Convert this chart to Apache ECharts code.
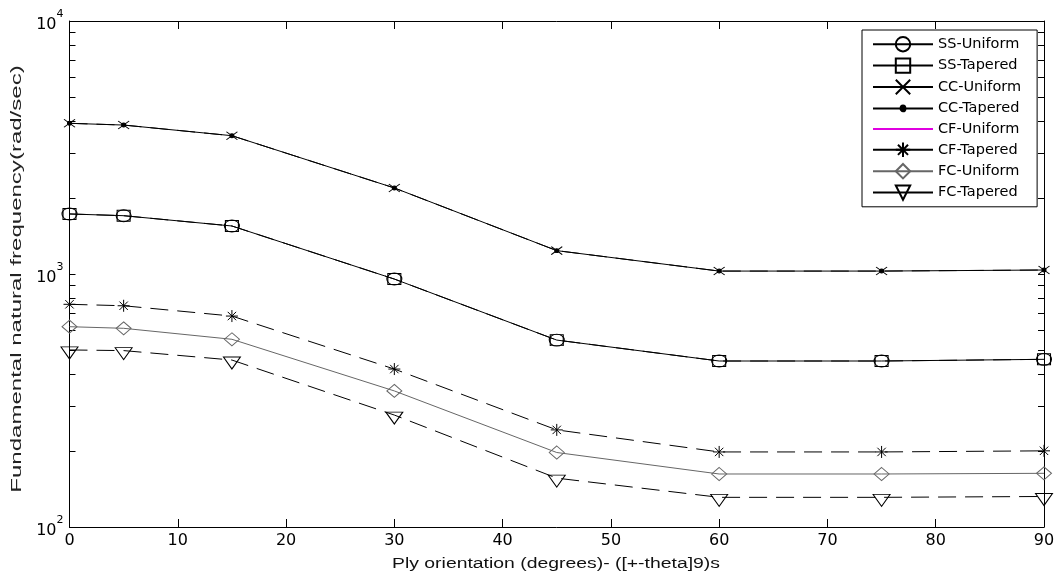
<!DOCTYPE html>
<html>
<head>
<meta charset="utf-8">
<script src="https://cdn.jsdelivr.net/npm/echarts@6/dist/echarts.min.js"></script>
<style>
  html, body { margin: 0; padding: 0; background: #fff; }
  #chart { width: 1057px; height: 576px; }
</style>
</head>
<body>
<div id="chart"></div>
<script>
// Ply angle (degrees) for the [+-theta]9s laminate
const angles = [0, 5, 15, 30, 45, 60, 75, 90];

// Fundamental natural frequency (rad/sec) per boundary condition and taper case
const ssUniform = [1727, 1700, 1548, 955, 548, 453, 453, 460];
const ssTapered = [1727, 1700, 1548, 955, 548, 453, 453, 460];
const ccUniform = [3941, 3879, 3521, 2188, 1237, 1027, 1027, 1037];
const ccTapered = [3941, 3879, 3521, 2188, 1237, 1027, 1027, 1037];
const cfUniform = [];
const cfTapered = [759, 749, 682, 421, 242, 198, 198, 200];
const fcUniform = [619, 610, 552, 345, 197, 162, 162, 163];
const fcTapered = [501, 498, 457, 277, 156, 131, 131, 132];

const seriesNames = ['SS-Uniform', 'SS-Tapered', 'CC-Uniform', 'CC-Tapered',
                     'CF-Uniform', 'CF-Tapered', 'FC-Uniform', 'FC-Tapered'];

// Decade labels, plus every tick of the log frequency axis (decades and 2..9 steps)
const decadeTicks = [100, 1000, 10000];
const logTicks = [100, 200, 300, 400, 500, 600, 700, 800, 900,
                  1000, 2000, 3000, 4000, 5000, 6000, 7000, 8000, 9000, 10000];

const xTitle = 'Ply orientation (degrees)- ([+-theta]9)s';
const yTitle = 'Fundamental natural frequency(rad/sec)';

const FONT = '"DejaVu Sans", sans-serif';
const FONT_NARROW = '"Liberation Sans", Arial, sans-serif';

// Marker outlines (slightly wider than tall)
const SYM = {
  ring: 'path://M0,6A8,6 0 1,1 16,6A8,6 0 1,1 0,6Z',
  box: 'path://M0,0L13,0L13,11L0,11Z',
  cross: 'path://M0,0L12,9M12,0L0,9',
  dot: 'path://M0,0M12,10M4,5A2,2 0 1,0 8,5A2,2 0 1,0 4,5Z',
  star: 'path://M6,0L6,12M0,6L12,6M1.8,1.8L10.2,10.2M10.2,1.8L1.8,10.2',
  rhomb: 'path://M8,0L16,6.5L8,13L0,6.5Z',
  triDown: 'path://M0,0L17,0L8.5,12Z'
};

function pairs(vals) {
  return vals.map((v, i) => [angles[i], v]);
}

function makeSeries(name, vals, opts) {
  return {
    name: name,
    type: 'line',
    data: pairs(vals),
    symbol: opts.symbol || 'circle',
    symbolSize: opts.size || 10,
    symbolOffset: opts.offset || [0, 0],
    showSymbol: true,
    silent: true,
    animation: false,
    lineStyle: {
      color: opts.color,
      width: 1,
      type: opts.dashed ? [18, 9] : 'solid'
    },
    itemStyle: {
      color: opts.filled ? opts.color : 'rgba(0,0,0,0)',
      borderColor: opts.noMarker ? 'rgba(0,0,0,0)' : opts.color,
      borderWidth: opts.noMarker ? 0 : 1
    }
  };
}

const chart = echarts.init(document.getElementById('chart'));

const series = [
  makeSeries(seriesNames[0], ssUniform, { color: '#000', symbol: SYM.ring, size: [15, 12] }),
  makeSeries(seriesNames[1], ssTapered, { color: '#000', symbol: SYM.box, size: [13, 11], dashed: true }),
  makeSeries(seriesNames[2], ccUniform, { color: '#000', symbol: SYM.cross, size: [11, 8] }),
  makeSeries(seriesNames[3], ccTapered, { color: '#000', symbol: SYM.dot, size: [12, 10], dashed: true, filled: true }),
  makeSeries(seriesNames[4], cfUniform, { color: '#e000e0', noMarker: true }),
  makeSeries(seriesNames[5], cfTapered, { color: '#000', symbol: SYM.star, size: [12, 12], dashed: true }),
  makeSeries(seriesNames[6], fcUniform, { color: '#666', symbol: SYM.rhomb, size: [15, 13] }),
  makeSeries(seriesNames[7], fcTapered, { color: '#000', symbol: SYM.triDown, size: [17, 12], offset: [0, 3], dashed: true })
];

const yLabelFmt = function (v) {
  const e = Math.round(Math.log10(v));
  return '{b|10}{s|' + e + '}';
};

const frameLine = { show: true, onZero: false, lineStyle: { color: '#000', width: 1 } };

function logAxis(position, label) {
  return {
    type: 'log',
    logBase: 10,
    min: 100, max: 10000,
    position: position,
    axisLine: frameLine,
    axisTick: { show: true, inside: true, length: 6, customValues: logTicks, lineStyle: { color: '#000' } },
    axisLabel: label || { show: false },
    splitLine: { show: false }
  };
}

function angleAxis(position, label) {
  return {
    type: 'value',
    min: 0, max: 90, interval: 10,
    position: position,
    axisLine: frameLine,
    axisTick: { show: true, inside: true, length: 8, lineStyle: { color: '#000' } },
    axisLabel: label || { show: false },
    splitLine: { show: false }
  };
}

chart.setOption({
  backgroundColor: '#fff',
  animation: false,
  grid: { left: 69.5, right: 13, top: 21, bottom: 49, containLabel: false, outerBoundsMode: 'none' },
  legend: {
    data: seriesNames,
    orient: 'vertical',
    left: 862,
    top: 30,
    itemWidth: 60,
    itemHeight: 18,
    itemGap: 5,
    padding: [6, 16, 6, 10],
    borderColor: '#000',
    borderWidth: 1,
    backgroundColor: '#fff',
    selectedMode: false,
    lineStyle: { type: 'solid' },
    textStyle: { fontFamily: FONT, fontSize: 14.5, color: '#000' }
  },
  graphic: [
    {
      type: 'text',
      x: 556,
      y: 564,
      scaleX: 1.25,
      silent: true,
      style: {
        text: xTitle,
        font: '15.5px ' + FONT_NARROW,
        fill: '#111',
        align: 'center',
        verticalAlign: 'middle'
      }
    },
    {
      type: 'text',
      x: 17,
      y: 279,
      rotation: Math.PI / 2,
      scaleX: 1.55,
      silent: true,
      style: {
        text: yTitle,
        font: '15.5px ' + FONT_NARROW,
        fill: '#222',
        align: 'center',
        verticalAlign: 'middle'
      }
    }
  ],
  xAxis: [
    angleAxis('bottom', { fontFamily: FONT, fontSize: 16, color: '#000', margin: 6 }),
    angleAxis('top')
  ],
  yAxis: [
    logAxis('left', {
      show: true,
      customValues: decadeTicks,
      formatter: yLabelFmt,
      margin: 6,
      rich: {
        b: { fontFamily: FONT, fontSize: 16, color: '#000', lineHeight: 24, verticalAlign: 'bottom' },
        s: { fontFamily: FONT, fontSize: 11, color: '#000', lineHeight: 24, verticalAlign: 'top' }
      }
    }),
    logAxis('right')
  ],
  series: series
});
</script>
</body>
</html>
